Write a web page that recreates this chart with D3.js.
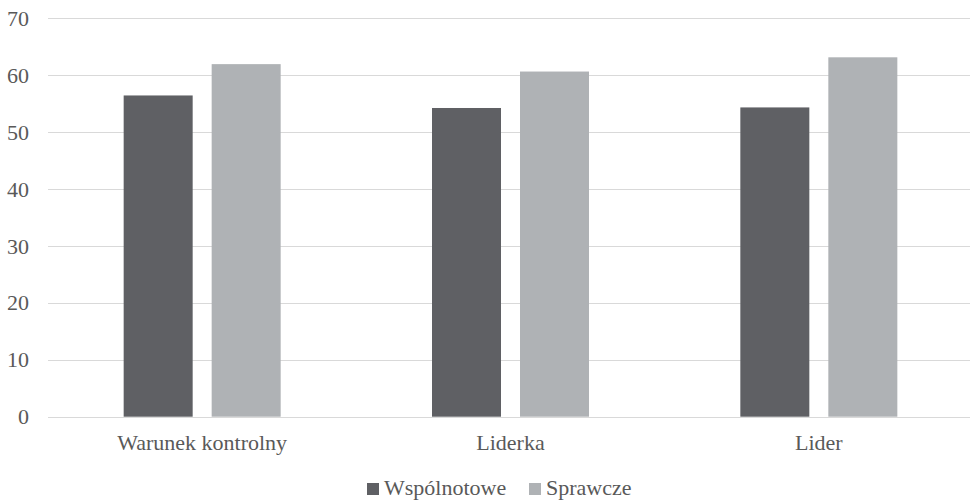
<!DOCTYPE html>
<html><head><meta charset="utf-8">
<script src="https://cdn.jsdelivr.net/npm/d3@7"></script>
<style>body{margin:0;background:#fff;}</style>
</head><body>
<svg id="c" width="970" height="501"></svg>
<script>
const categories = ["Warunek kontrolny", "Liderka", "Lider"];
const seriesNames = ["Wspólnotowe", "Sprawcze"];
const wspolnotowe = [56.4, 54.2, 54.3];
const sprawcze = [61.9, 60.6, 63.1];
const yTicks = [0, 10, 20, 30, 40, 50, 60, 70];
const colors = ["#5f6064", "#afb2b5"];
const FONT = "Liberation Serif";
const FS = 22;

const svg = d3.select("#c");
const x0 = d3.scaleBand().domain(categories).range([48, 973]).paddingInner(0).paddingOuter(0);
const y = d3.scaleLinear().domain([0, 70]).range([416.7, 18]);
const groupW = 157;
const x1 = d3.scaleBand().domain(seriesNames).range([0, groupW]).paddingInner(19/88).paddingOuter(0);

svg.append("g").selectAll("line").data(yTicks).join("line")
  .attr("x1", 48).attr("x2", 970)
  .attr("y1", d => Math.round(y(d)) + 0.5).attr("y2", d => Math.round(y(d)) + 0.5)
  .attr("stroke", "#d9d9d9").attr("stroke-width", 1);

svg.append("g").selectAll("text").data(yTicks).join("text")
  .attr("x", 29).attr("y", d => y(d)).attr("dy", "0.35em")
  .attr("text-anchor", "end").attr("font-size", FS)
  .attr("font-family", FONT).attr("fill", "#595959").text(d => d);

const series = [wspolnotowe, sprawcze];
const g = svg.append("g");
categories.forEach((c, i) => {
  const gx = x0(c) + (x0.bandwidth() - groupW) / 2;
  seriesNames.forEach((s, j) => {
    g.append("rect")
      .attr("x", gx + x1(s)).attr("width", x1.bandwidth())
      .attr("y", y(series[j][i])).attr("height", y(0) - y(series[j][i]))
      .attr("fill", colors[j]);
  });
});

svg.append("g").selectAll("text").data(categories).join("text")
  .attr("x", d => x0(d) + x0.bandwidth() / 2).attr("y", 450)
  .attr("text-anchor", "middle").attr("font-size", FS)
  .attr("font-family", FONT).attr("fill", "#595959").text(d => d);

const leg = svg.append("g");
const legX = [367, 529];
seriesNames.forEach((s, j) => {
  leg.append("rect").attr("x", legX[j]).attr("y", 483).attr("width", 12).attr("height", 12).attr("fill", colors[j]);
  leg.append("text").attr("x", legX[j] + 17).attr("y", 495).attr("font-size", FS)
    .attr("font-family", FONT).attr("fill", "#595959").text(s);
});
</script>
</body></html>
